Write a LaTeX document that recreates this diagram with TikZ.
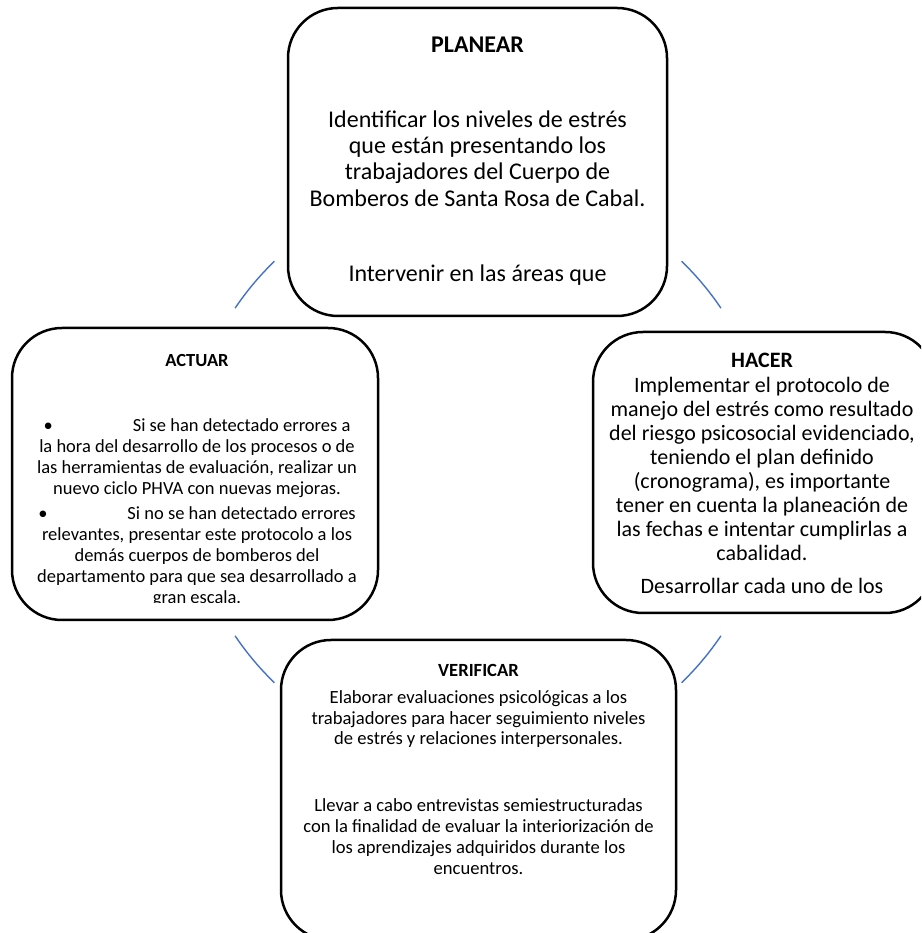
\documentclass[tikz,border=0pt]{standalone}
\usepackage{fontspec}
\setmainfont{Carlito}
\usepackage{tikz}
\usetikzlibrary{positioning}
\definecolor{arco}{HTML}{4472C4}
\tikzset{
  fase/.style={draw, line width=2.5pt, rounded corners=50pt, fill=white},
  texto/.style 2 args={align=center, inner sep=0pt, font=\fontsize{#1pt}{#2pt}\selectfont},
  ciclo/.style={draw=arco, line width=1.4pt}
}

\begin{document}
\begin{tikzpicture}[x=1pt,y=1pt]
        \useasboundingbox (0,0) rectangle (921,933);
        \clip (0,0) rectangle (921,933);

        % ring of the cycle
        \coordinate (ring) at (478,461);
        \foreach \a in {34,134,214,314}
          \draw[ciclo] ([shift={(\a:293pt)}]ring) arc[start angle=\a, delta angle=12, radius=293pt];

        % boxes
        \node[fase, minimum width=379pt, minimum height=308pt] (planear) at (477.5,771) {};
        \node[fase, minimum width=366pt, minimum height=292pt] (actuar) at (195,459) {};
        \node[fase, minimum width=342pt, minimum height=281pt] (hacer) at (764,460.5) {};
        \node[fase, minimum width=395pt, minimum height=300pt] (verificar) at (478.5,143) {};

        % texts
        \node[texto={24}{26.3}, below=29.5pt of planear.north] (planeartxt) {%
          \textbf{PLANEAR}\\[49pt]
          Identificar los niveles de estrés\\
          que están presentando los\\
          trabajadores del Cuerpo de\\
          Bomberos de Santa Rosa de Cabal.\\[49pt]
          Intervenir en las áreas que};

        \begin{scope}
          \clip (actuar.south west) ++(0,19) rectangle (actuar.north east);
          \node[texto={18.5}{20.8}, below=27.8pt of actuar.north, xshift=2pt] (actuartxt) {%
            \textbf{ACTUAR}\\[44pt]
            \textbullet\hspace{80pt}Si se han detectado errores a\\
            la hora del desarrollo de los procesos o de\\
            las herramientas de evaluación, realizar un\\
            nuevo ciclo PHVA con nuevas mejoras.\\[5pt]
            \textbullet\hspace{80pt}Si no se han detectado errores\\
            relevantes, presentar este protocolo a los\\
            demás cuerpos de bomberos del\\
            departamento para que sea desarrollado a\\
            gran escala.};
        \end{scope}

        \node[texto={22}{24}, below=22.5pt of hacer.north, xshift=-2pt] (hacertxt) {%
          \textbf{HACER}\\[1pt]
          Implementar el protocolo de\\
          manejo del estrés como resultado\\
          del riesgo psicosocial evidenciado,\\
          teniendo el plan definido\\
          (cronograma), es importante\\
          tener en cuenta la planeación de\\
          las fechas e intentar cumplirlas a\\
          cabalidad.\\[9pt]
          Desarrollar cada uno de los};

        \node[texto={18.6}{20.7}, below=25.5pt of verificar.north] (verificartxt) {%
          \textbf{VERIFICAR}\\[6pt]
          Elaborar evaluaciones psicológicas a los\\
          trabajadores para hacer seguimiento niveles\\
          de estrés y relaciones interpersonales.\\[46.5pt]
          Llevar a cabo entrevistas semiestructuradas\\
          con la finalidad de evaluar la interiorización de\\
          los aprendizajes adquiridos durante los\\
          encuentros.};
\end{tikzpicture}
\end{document}
